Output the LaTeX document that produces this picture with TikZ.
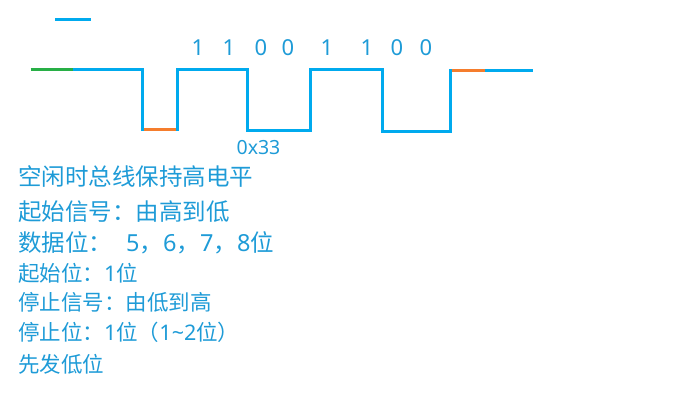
\documentclass[tikz,border=0pt]{standalone}
\usepackage{fontspec}
\setmainfont{Noto Sans CJK SC}
\newfontfamily\latin{Noto Sans}
\definecolor{wave}{RGB}{0,170,238}
\definecolor{txt}{RGB}{30,155,215}
\definecolor{idle}{RGB}{40,175,70}
\definecolor{stopbit}{RGB}{245,125,45}
\newcommand{\dg}[1]{{\latin #1}}
\begin{document}
\begin{tikzpicture}[x=1pt, y=-1pt,
    sig/.style={line width=3pt, wave, line join=miter},
    bit/.style={text=txt, inner sep=0pt, font=\latin\fontsize{22}{26}\selectfont},
    note/.style={text=txt, inner sep=0pt, anchor=base west, font=\fontsize{23.5}{28}\selectfont},
    smallnote/.style={note, font=\fontsize{21.5}{26}\selectfont}]
  \useasboundingbox (0,0) rectangle (673,403);
  % short mark at the top
  \draw[sig] (55,20) -- (90.5,20);
  % the frame
  \draw[sig] (73,69.5) -- (142,69.5) -- (142,129.5) -- (177,129.5) -- (177,69.5) -- (247,69.5) -- (247,130.5)
             -- (310,130.5) -- (310,69.5) -- (382,69.5) -- (382,131.5) -- (450,131.5) -- (450,70.5) -- (533,70.5);
  \draw[line width=3pt, idle]    (30.5,69.5) -- (73,69.5);
  \draw[line width=3pt, stopbit] (143.5,129.5) -- (175.5,129.5);
  \draw[line width=3pt, stopbit] (451.5,70.5) -- (485,70.5);
  % data bits
  \foreach \x/\b [count=\i] in {198/1,229/1,261/0,288/0,327/1,367/1,397/0,426/0}
    \node[bit] (b\i) at (\x,48) {\b};
  \node[bit, anchor=base, font=\latin\fontsize{19.5}{22}\selectfont] (hex) at (258.5,155) {0x33};
  % notes
  \node[note] (n1) at (18,186) {空闲时总线保持高电平};
  \node[note] (n2) at (18,221) {起始信号：由高到低};
  \node[note] (n3) at (18,252) {数据位：\hspace{14pt}\dg{5}，\dg{6}，\dg{7}，\dg{8}位};
  \node[smallnote] (n4) at (18,282) {起始位：\dg{1}位};
  \node[smallnote] (n5) at (18,311) {停止信号：由低到高};
  \node[smallnote] (n6) at (18,341) {停止位：\dg{1}位（\dg{1{\char"7E}2}位）};
  \node[smallnote] (n7) at (18,373) {先发低位};
\end{tikzpicture}
\end{document}
